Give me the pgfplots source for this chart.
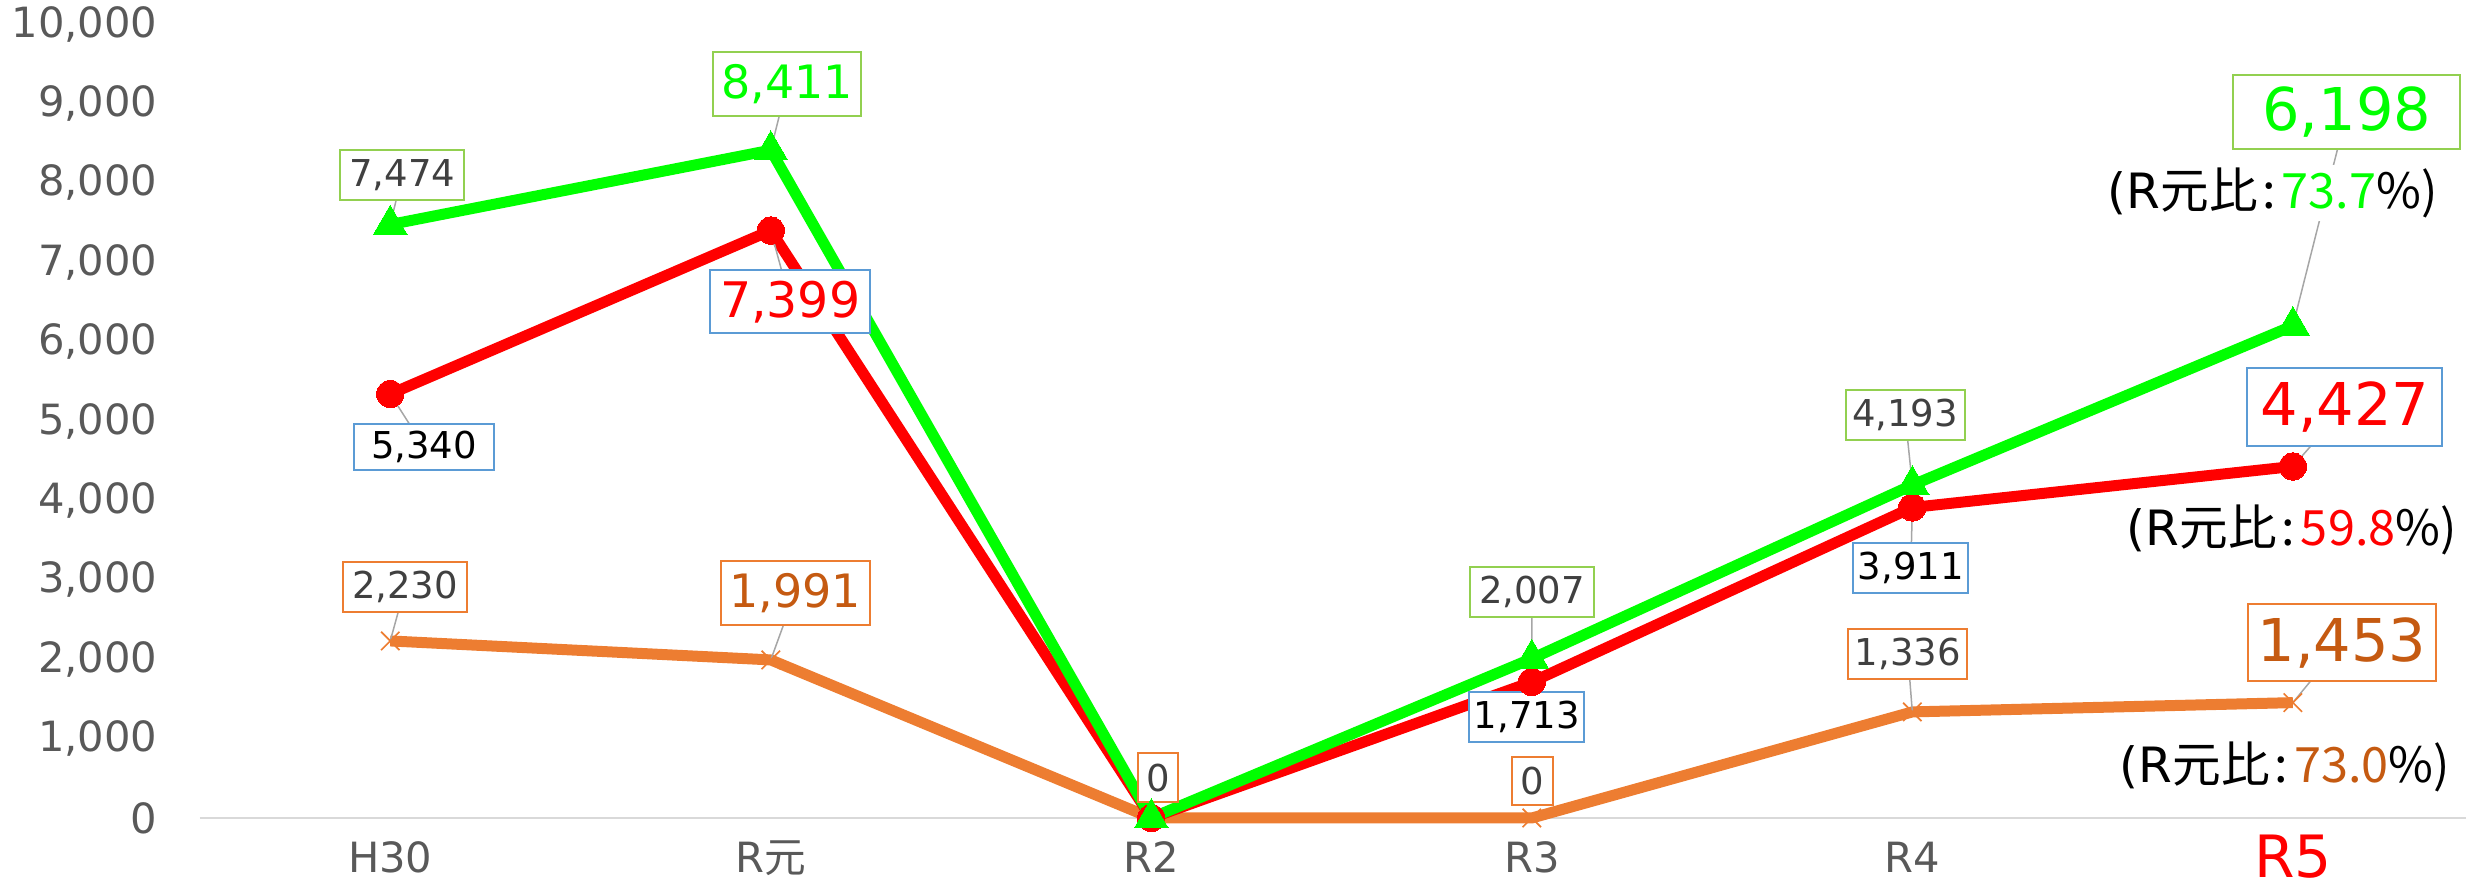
\documentclass[border=0pt]{standalone}
\usepackage{pgfplots}
\pgfplotsset{compat=1.18}
\usepackage{fontspec}
\setmainfont{DejaVu Sans}
\newfontfamily\cjk{Noto Sans CJK JP}
\definecolor{cGreen}{HTML}{00FF00}
\definecolor{cRed}{HTML}{FF0000}
\definecolor{cOrange}{HTML}{ED7D31}
\definecolor{cOrangeTxt}{HTML}{C55A11}
\definecolor{bGreen}{HTML}{92D050}
\definecolor{bBlue}{HTML}{5B9BD5}
\definecolor{tGray}{HTML}{595959}
\definecolor{lGray}{HTML}{404040}
\definecolor{axGray}{HTML}{D9D9D9}
\definecolor{leader}{HTML}{A6A6A6}
\newcommand{\fs}[1]{\fontsize{#1}{#1}\selectfont}
\tikzset{
  lbl/.style={draw=#1, line width=0.6pt, fill=white, inner sep=0pt, anchor=center},
  ldr/.style={draw=leader, line width=0.45pt},
}
\begin{document}
\begin{tikzpicture}
\useasboundingbox (-60pt,-22.2pt) rectangle (679.8pt,245.4pt);
\begin{axis}[
  at={(0,0)}, anchor=south west,
  scale only axis, width=679.8pt, height=238.2pt,
  xmin=-0.5, xmax=5.455, ymin=0, ymax=10000,
  clip=false,
  axis x line*=bottom, axis y line*=left,
  x axis line style={draw=axGray, line width=0.6pt, -},
  y axis line style={draw=none},
  major tick length=0pt,
  xtick={0,1,2,3,4,5},
  xticklabels={H30, R\cjk{元}, R2, R3, R4, {\raisebox{-1.4pt}{\color{cRed}\fs{17.5}R5}}},
  ytick={0,1000,...,10000},
  scaled y ticks=false,
  /pgf/number format/1000 sep={,},
  /pgf/number format/assume math mode=true,
  yticklabel style={anchor=east, inner sep=0pt, xshift=-12.6pt, font=\fs{12.5}, text=tGray},
  xticklabel style={anchor=base, inner sep=0pt, yshift=-16.5pt, font=\fs{12.5}, text=tGray},
]
\addplot[cOrange, line width=3.3pt, line join=round, mark=x, mark size=3.9pt, mark options={line width=0.5pt, solid}]
  coordinates {(0,2230)(1,1991)(2,0)(3,0)(4,1336)(5,1453)};
\addplot[cRed, line width=3.3pt, line join=round, mark=*, mark size=4.1pt, mark options={solid, line width=0pt}]
  coordinates {(0,5340)(1,7399)(2,0)(3,1713)(4,3911)(5,4427)};
\addplot[cGreen, line width=3.3pt, line join=round, mark=triangle*, mark size=5.8pt, mark options={solid, line width=0pt}]
  coordinates {(0,7474)(1,8411)(2,0)(3,2007)(4,4193)(5,6198)};

% leader lines
\draw[ldr] (axis cs:0,7474) -- (axis cs:0.0315,8098);
\draw[ldr] (axis cs:1,8411) -- (axis cs:1.043,9244);
\draw[ldr] (axis cs:3,2007) -- (axis cs:3.0005,2846);
\draw[ldr] (axis cs:4,4193) -- (axis cs:3.981,5075);
\draw[ldr] (axis cs:5,6198) -- (axis cs:5.142,8891);
\draw[ldr] (axis cs:0,5340) -- (axis cs:0.089,4672);
\draw[ldr] (axis cs:1,7399) -- (axis cs:1.051,6499);
\draw[ldr] (axis cs:3,1713) -- (axis cs:2.987,1272);
\draw[ldr] (axis cs:4,3911) -- (axis cs:3.996,3149);
\draw[ldr] (axis cs:5,4427) -- (axis cs:5.137,5176);
\draw[ldr] (axis cs:0,2230) -- (axis cs:0.039,2909);
\draw[ldr] (axis cs:1,1991) -- (axis cs:1.064,2834);
\draw[ldr] (axis cs:2,0) -- (axis cs:2.018,504);
\draw[ldr] (axis cs:4,1336) -- (axis cs:3.988,2065);
\draw[ldr] (axis cs:5,1453) -- (axis cs:5.129,2204);

% annotations (R元比)
\node[fill=white, inner sep=1pt, font=\fs{14.6}] at (axis cs:4.947,7871) {(R\cjk{元比}\hspace{0.1em}:\hspace{0.12em}\textcolor{cGreen}{73.7}\%)};
\node[fill=white, inner sep=1pt, font=\fs{14.6}] at (axis cs:4.997,3627) {(R\cjk{元比}\hspace{0.1em}:\hspace{0.12em}\textcolor{cRed}{59.8}\%)};
\node[fill=white, inner sep=1pt, font=\fs{14.6}] at (axis cs:4.979,642) {(R\cjk{元比}\hspace{0.1em}:\hspace{0.12em}\textcolor{cOrangeTxt}{73.0}\%)};

% green labels
\node[lbl=bGreen, minimum width=37.2pt, minimum height=15pt, font=\fs{11.1}, text=lGray] at (axis cs:0.0315,8098) {7,474};
\node[lbl=bGreen, minimum width=44.4pt, minimum height=19.2pt, font=\fs{13.8}, text=cGreen] at (axis cs:1.043,9244) {8,411};
\node[lbl=bGreen, minimum width=37.2pt, minimum height=15pt, font=\fs{11.1}, text=lGray] at (axis cs:3.0005,2846) {2,007};
\node[lbl=bGreen, minimum width=35.7pt, minimum height=15pt, font=\fs{11.1}, text=lGray] at (axis cs:3.981,5075) {4,193};
\node[lbl=bGreen, minimum width=68.1pt, minimum height=22.2pt, font=\fs{17.7}, text=cGreen] at (axis cs:5.142,8891) {6,198};
% red labels
\node[lbl=bBlue, minimum width=42pt, minimum height=13.8pt, font=\fs{11.1}, text=black] at (axis cs:0.089,4672) {5,340};
\node[lbl=bBlue, minimum width=48pt, minimum height=18.9pt, font=\fs{14.7}, text=cRed] at (axis cs:1.051,6499) {7,399};
\node[lbl=bBlue, minimum width=34.5pt, minimum height=15pt, font=\fs{11.1}, text=black] at (axis cs:2.987,1272) {1,713};
\node[lbl=bBlue, minimum width=34.5pt, minimum height=15pt, font=\fs{11.1}, text=black] at (axis cs:3.996,3149) {3,911};
\node[lbl=bBlue, minimum width=58.5pt, minimum height=23.4pt, font=\fs{17.7}, text=cRed] at (axis cs:5.137,5176) {4,427};
% orange labels
\node[lbl=cOrange, minimum width=37.2pt, minimum height=15pt, font=\fs{11.1}, text=lGray] at (axis cs:0.039,2909) {2,230};
\node[lbl=cOrange, minimum width=44.7pt, minimum height=19.2pt, font=\fs{13.8}, text=cOrangeTxt] at (axis cs:1.064,2834) {1,991};
\node[lbl=cOrange, minimum width=12pt, minimum height=14.7pt, font=\fs{11.1}, text=lGray] at (axis cs:2.018,504) {0};
\node[lbl=cOrange, minimum width=12.3pt, minimum height=14.4pt, font=\fs{11.1}, text=lGray] at (axis cs:3.0005,466) {0};
\node[lbl=cOrange, minimum width=35.7pt, minimum height=15pt, font=\fs{11.1}, text=lGray] at (axis cs:3.988,2065) {1,336};
\node[lbl=cOrange, minimum width=56.4pt, minimum height=23.1pt, font=\fs{17.7}, text=cOrangeTxt] at (axis cs:5.129,2204) {1,453};
\end{axis}
\end{tikzpicture}
\end{document}
